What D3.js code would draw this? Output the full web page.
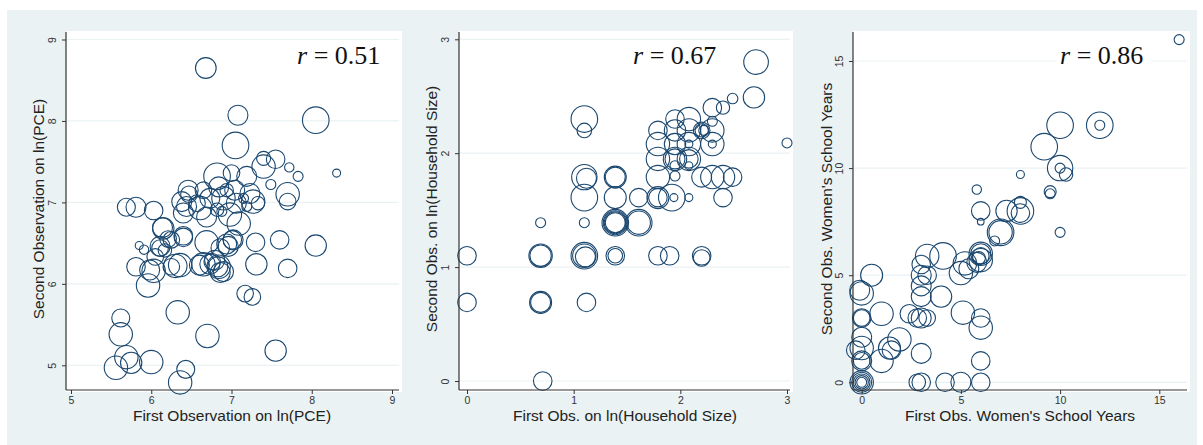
<!DOCTYPE html>
<html>
<head>
<meta charset="utf-8">
<script src="https://cdn.jsdelivr.net/npm/d3@7"></script>
<style>
  body { margin: 0; background: #ffffff; }
  svg { display: block; }
</style>
</head>
<body>
<div id="chart"></div>
<script>
// panel 1: ln(PCE), first and second observation, bubble weight
var pceFirst = [6.68, 7.08, 8.05, 7.05, 8.31, 7.40, 7.40, 7.55, 7.72, 7.83, 7.49, 7.70, 7.70, 7.60, 8.05, 7.70,
  7.31, 7.30, 7.17, 7.26, 7.55, 6.70, 6.33, 5.96, 6.03, 5.81, 5.62, 5.62, 5.69, 5.75, 5.56, 6.00, 6.43, 6.36,
  5.69, 5.81, 6.03, 6.14, 6.21, 6.40, 5.85, 5.91, 6.11, 6.17, 6.05, 6.30, 6.36, 6.25, 6.69, 6.60, 6.65, 6.73,
  6.76, 6.86, 6.83, 6.94, 7.01, 7.09, 6.86, 6.82, 7.00, 7.19, 6.46, 6.47, 6.38, 6.44, 6.40, 6.65, 6.73, 6.84,
  6.90, 7.04, 7.06, 7.23, 7.27, 7.19, 6.61, 6.69, 6.82, 6.88, 6.98, 6.94, 6.57, 7.15, 7.33, 5.98, 6.11, 6.25,
  6.40, 6.79, 6.84, 6.90, 6.96, 7.02, 6.15];
var pceSecond = [8.65, 8.07, 8.01, 7.70, 7.36, 7.54, 7.44, 7.53, 7.43, 7.32, 7.22, 7.10, 7.01, 6.54, 6.47, 6.19,
  6.24, 6.51, 5.88, 5.84, 5.18, 5.36, 5.65, 5.98, 6.16, 6.21, 5.58, 5.38, 5.10, 5.03, 4.97, 5.04, 4.95, 4.79,
  6.94, 6.94, 6.90, 6.69, 6.55, 6.57, 6.47, 6.42, 6.44, 6.41, 6.33, 6.22, 6.23, 6.21, 6.51, 6.23, 6.24, 6.24,
  6.27, 6.14, 6.21, 6.49, 6.54, 6.74, 6.44, 7.32, 7.36, 7.32, 7.15, 7.10, 7.01, 6.95, 6.87, 7.15, 7.05, 7.19,
  7.05, 7.15, 6.99, 7.11, 7.01, 6.95, 6.93, 6.82, 6.91, 6.89, 6.85, 7.15, 6.99, 7.05, 6.99, 6.17, 6.46, 6.54,
  6.59, 6.29, 6.21, 6.15, 6.46, 6.54, 6.68];
var pceWeight = [107, 100, 177, 177, 16, 49, 137, 86, 22, 25, 25, 137, 69, 86, 114, 86,
  114, 86, 69, 69, 114, 137, 137, 137, 137, 86, 81, 137, 137, 114, 137, 137, 81, 137,
  81, 100, 86, 100, 69, 86, 16, 22, 69, 45, 69, 137, 137, 69, 137, 100, 137, 100,
  69, 100, 100, 100, 86, 137, 86, 177, 69, 100, 100, 69, 100, 100, 100, 69, 100, 100,
  137, 100, 100, 100, 137, 25, 137, 100, 45, 25, 137, 45, 69, 25, 45, 100, 100, 69,
  86, 100, 137, 100, 100, 100, 114];

// panel 2: ln(household size)
var hhFirst = [0, 0, 0.69, 0.69, 0.69, 0.69, 0.69, 0.71, 1.10, 1.10, 1.10, 1.12, 1.10, 1.10, 1.10, 1.10,
  1.11, 1.12, 1.39, 1.39, 1.39, 1.39, 1.39, 1.39, 1.39, 1.39, 1.39, 1.61, 1.61, 1.61, 1.79, 1.79, 1.92,
  1.94, 2.08, 1.79, 1.90, 2.20, 2.20, 1.79, 1.79, 1.79, 1.79, 1.95, 1.95, 1.95, 1.95, 1.95, 1.95, 1.95,
  2.08, 2.08, 2.08, 2.08, 2.08, 2.08, 2.08, 2.20, 2.20, 2.22, 2.20, 2.30, 2.30, 2.30, 2.30, 2.30, 2.30,
  2.40, 2.40, 2.40, 2.49, 2.49, 2.69, 2.71, 3.00];
var hhSecond = [1.10, 0.69, 1.39, 1.10, 1.10, 0.69, 0.69, 0, 2.30, 2.20, 1.79, 1.78, 1.61, 1.39, 1.10, 1.10,
  1.09, 0.69, 1.79, 1.79, 1.61, 1.39, 1.39, 1.39, 1.39, 1.10, 1.10, 1.61, 1.39, 1.39, 1.61, 1.61, 1.61,
  1.61, 1.61, 1.10, 1.10, 1.10, 1.08, 1.79, 1.95, 2.08, 2.20, 2.30, 2.08, 2.20, 1.95, 1.95, 1.89, 1.80,
  2.30, 2.20, 2.08, 2.08, 1.95, 1.95, 1.89, 2.20, 2.20, 2.20, 1.79, 2.40, 2.28, 2.20, 2.08, 2.08, 1.79,
  2.40, 1.79, 1.61, 2.48, 1.79, 2.49, 2.80, 2.09];
var hhWeight = [86, 86, 25, 114, 137, 100, 121, 86, 177, 53, 161, 100, 177, 25, 177, 137,
  100, 86, 121, 100, 121, 177, 144, 121, 100, 86, 53, 86, 177, 137, 121, 86, 177,
  16, 16, 86, 86, 86, 69, 137, 137, 137, 86, 86, 114, 114, 137, 100, 25, 25,
  137, 137, 16, 137, 137, 86, 16, 69, 44, 25, 100, 86, 25, 137, 137, 16, 137,
  44, 137, 86, 28, 86, 114, 152, 25];

// panel 3: women's school years
var schFirst = [16, 10, 12, 12, 9.2, 10, 10, 10.3, 8, 9.5, 9.5, 5.8, 6, 6, 7.3, 8, 8, 8, 7, 7, 6.7, 10,
  6, 6, 6, 5.9, 6, 5.8, 5.2, 5, 5.4, 4.1, 3.3, 3, 3.3, 3, 3, 3, 4, 3, 3.3, 2.8, 2.4, 5.1, 6, 6, 6, 6,
  5, 4.2, 3, 2.8, 3, 1, 0.5, 0, -0.1, 0, 0, 0, 0, 0, 0, 0, 0, 0, 0, 0, 1, 1.5, 1.4, 1.9, -0.3];
var schSecond = [16, 12, 12, 12, 11, 10, 10, 9.7, 9.7, 8.9, 8.8, 9.0, 8, 7.5, 8, 8, 7.9, 8.4, 7, 7, 6.6, 7,
  6, 6, 5.9, 5.8, 5.7, 5.6, 5.55, 5.1, 5.3, 5.9, 5.9, 5.5, 5.0, 5, 4.5, 4, 4, 3, 3, 3, 3.2, 3.25, 3.0, 2.55, 1, 0,
  0, 0, 0, 0, 1.35, 3.2, 5.0, 4.15, 4.3, 3.0, 3.0, 2.1, 1.6, 1.0, 1.0, 0, 0, 0, 0, 0, 1.0, 1.5, 1.6, 2.0, 1.5];
var schWeight = [25, 177, 177, 25, 177, 161, 25, 45, 16, 36, 25, 22, 86, 11, 114, 177, 86, 36, 177, 137, 25, 25,
  137, 100, 69, 44, 137, 100, 137, 137, 100, 177, 137, 86, 86, 100, 100, 100, 114, 100, 69, 86, 86, 137, 86, 137, 86, 86,
  100, 86, 86, 69, 100, 137, 121, 137, 100, 86, 69, 100, 137, 100, 69, 137, 100, 69, 44, 25, 137, 86, 121, 137, 86];

// tick labels and titles
var pceTicks = [5, 6, 7, 8, 9];
var hhTicks = [0, 1, 2, 3];
var schTicks = [0, 5, 10, 15];
var xTitles = ['First Observation on ln(PCE)', 'First Obs. on ln(Household Size)', "First Obs. Women's School Years"];
var yTitles = ['Second Observation on ln(PCE)', 'Second Obs. on ln(Household Size)', "Second Obs.  Women's School Years"];
var rValues = ['0.51', '0.67', '0.86'];

var marker = '#1a476f';
var bgColor = '#eaf2f3';

var svg = d3.select('#chart').append('svg')
    .attr('width', 1203)
    .attr('height', 445);

// outer graph region
svg.append('rect')
    .attr('x', 7).attr('y', 10)
    .attr('width', 1190).attr('height', 435)
    .attr('fill', bgColor);

// layout of each panel: white plot region and where the axis values land
var panels = [
  { x: pceFirst, y: pceSecond, w: pceWeight, ticks: pceTicks, dom: [5, 9],
    left: 66, right: 402, xr: [71, 392], yr: [365.3, 39.5],
    xTitleX: 232, yTitleX: 38, rX: 297 },
  { x: hhFirst, y: hhSecond, w: hhWeight, ticks: hhTicks, dom: [0, 3],
    left: 459, right: 793, xr: [467, 787], yr: [381, 39.3],
    xTitleX: 625, yTitleX: 431, rX: 633 },
  { x: schFirst, y: schSecond, w: schWeight, ticks: schTicks, dom: [0, 15],
    left: 853, right: 1190, xr: [861.7, 1159.3], yr: [382.3, 61],
    xTitleX: 1020, yTitleX: 826, rX: 1060 }
];

var plotTop = 31, plotBottom = 390;

// bubble size from weight
var radius = d3.scaleSqrt().domain([0, 100]).range([0, 10]);

panels.forEach(function(p, i) {
    drawPanel(p, i);
});

function drawPanel(p, i) {

    var x = d3.scaleLinear().domain(p.dom).range(p.xr);
    var y = d3.scaleLinear().domain(p.dom).range(p.yr);
    var g = svg.append('g');

    // white plot region
    g.append('rect')
        .attr('x', p.left).attr('y', plotTop)
        .attr('width', p.right - p.left).attr('height', plotBottom - plotTop + 2)
        .attr('fill', '#ffffff');

    // horizontal grid lines
    g.selectAll('line.grid')
        .data(p.ticks)
        .enter().append('line')
        .attr('class', 'grid')
        .attr('x1', p.left + 1).attr('x2', p.right - 3)
        .attr('y1', function(d) { return y(d); })
        .attr('y2', function(d) { return y(d); })
        .attr('stroke', bgColor)
        .attr('stroke-width', 1.2);

    // text box behind the correlation
    g.append('rect')
        .attr('x', p.rX - 4).attr('y', 40)
        .attr('width', 95).attr('height', 32)
        .attr('fill', '#ffffff');

    // bubbles
    g.selectAll('circle')
        .data(p.x.map(function(d, k) { return { x: d, y: p.y[k], w: p.w[k] }; }))
        .enter().append('circle')
        .attr('cx', function(d) { return x(d.x); })
        .attr('cy', function(d) { return y(d.y); })
        .attr('r', function(d) { return radius(d.w); })
        .attr('fill', 'none')
        .attr('stroke', marker)
        .attr('stroke-width', 1.1);

    // x axis
    var xAxis = g.append('g')
        .attr('transform', 'translate(0,' + plotBottom + ')')
        .call(d3.axisBottom(x).tickValues(p.ticks).tickFormat(d3.format('d'))
              .tickSize(4).tickPadding(3));
    xAxis.select('.domain').remove();
    xAxis.selectAll('line').attr('stroke', '#333');
    xAxis.selectAll('text')
        .attr('font-family', 'Liberation Sans, Arial, sans-serif')
        .attr('font-size', 10.5)
        .attr('fill', '#333');
    g.append('line')
        .attr('x1', p.left).attr('x2', p.right - 3)
        .attr('y1', plotBottom).attr('y2', plotBottom)
        .attr('stroke', '#333').attr('stroke-width', 1.2);

    // y axis, labels turned on their side
    var yAxis = g.append('g')
        .attr('transform', 'translate(' + p.left + ',0)')
        .call(d3.axisLeft(y).tickValues(p.ticks).tickFormat(d3.format('d')).tickSize(4));
    yAxis.select('.domain').remove();
    yAxis.selectAll('line').attr('stroke', '#333');
    yAxis.selectAll('text')
        .attr('transform', 'rotate(-90)')
        .attr('text-anchor', 'middle')
        .attr('x', 0).attr('y', -10).attr('dy', 0)
        .attr('font-family', 'Liberation Sans, Arial, sans-serif')
        .attr('font-size', 10.5)
        .attr('fill', '#333');
    g.append('line')
        .attr('x1', p.left).attr('x2', p.left)
        .attr('y1', plotTop + 1).attr('y2', plotBottom)
        .attr('stroke', '#333').attr('stroke-width', 1.2);

    // axis titles
    g.append('text')
        .attr('x', p.xTitleX).attr('y', 421)
        .attr('text-anchor', 'middle')
        .attr('font-family', 'Liberation Sans, Arial, sans-serif')
        .attr('font-size', 15.5)
        .attr('fill', '#222')
        .text(xTitles[i]);
    g.append('text')
        .attr('transform', 'translate(' + (p.yTitleX + 5.5) + ',209) rotate(-90)')
        .attr('text-anchor', 'middle')
        .attr('font-family', 'Liberation Sans, Arial, sans-serif')
        .attr('font-size', 15.5)
        .attr('fill', '#222')
        .text(yTitles[i]);

    // correlation label
    var r = g.append('text')
        .attr('x', p.rX).attr('y', 64)
        .attr('font-family', 'Liberation Serif, Times New Roman, serif')
        .attr('font-size', 26)
        .attr('fill', '#111');
    r.append('tspan').attr('font-style', 'italic').text('r');
    r.append('tspan').text(' = ' + rValues[i]);
}
</script>
</body>
</html>
